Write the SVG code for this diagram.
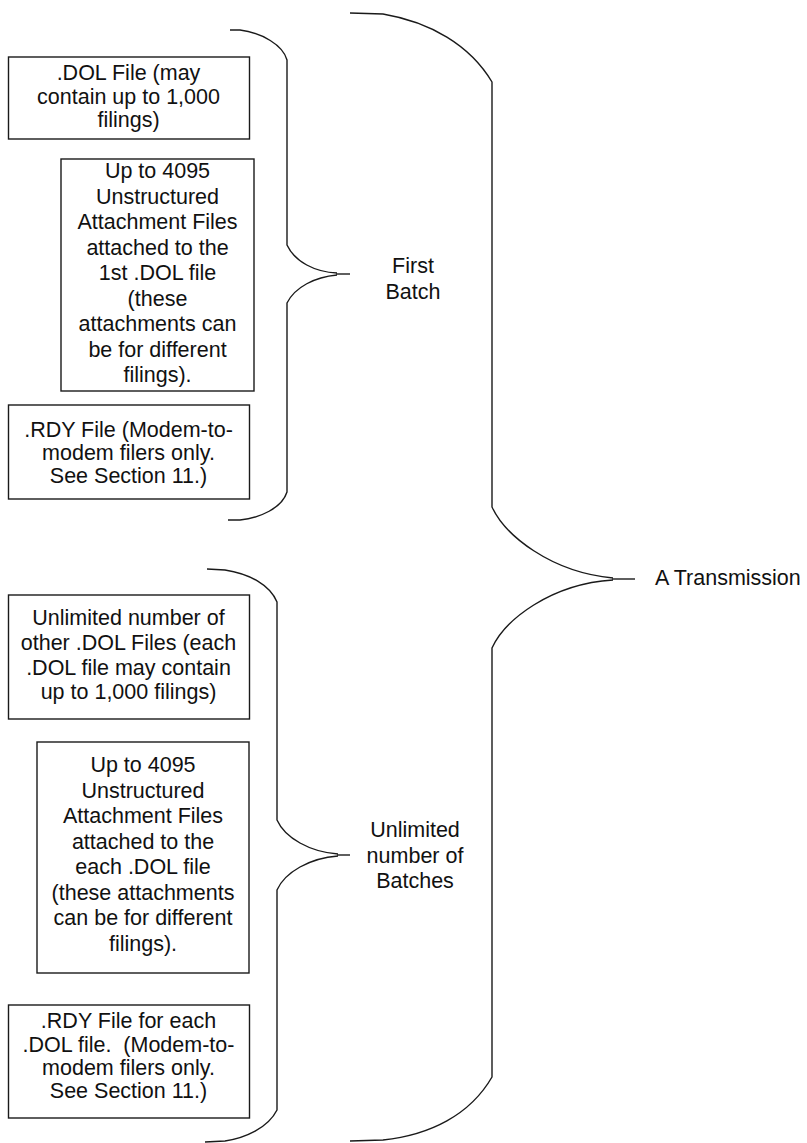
<svg xmlns="http://www.w3.org/2000/svg" width="807" height="1143" viewBox="0 0 807 1143">
<style>
.box{fill:#fff;stroke:#1a1a1a;stroke-width:1.4}
.br{fill:none;stroke:#1a1a1a;stroke-width:1.4}
text{font-family:"Liberation Sans",Arial,sans-serif;font-size:21.5px;fill:#111;text-anchor:middle;white-space:pre}
</style>
<rect width="807" height="1143" fill="#fff"/>
<g id="connectors">
<path class="br" d="M230,30 L240,30 C262,33 283,45 287,60 L287,245 C295,262 315,272 337,273 M337,275 C315,277 295,287 287,303 L287,492 C282,508 260,518 240,520 L228,520"/>
<path class="br" d="M336,274 L350,274" stroke-width="2"/>
<path class="br" d="M207,569 L225,570 C250,574 270,585 277,602 L277,820 C285,838 310,852 338,854 M338,856 C310,858 285,872 277,890 L277,1110 C268,1128 245,1138 225,1141 L205,1142"/>
<path class="br" d="M337,855 L350,855" stroke-width="2"/>
<path class="br" d="M350,13 L383,14 C430,22 470,45 492,82 L492,507 C505,535 550,572 613,578 M613,580 C550,584 505,620 492,648 L492,1077 C470,1115 430,1135 383,1140 L350,1141"/>
<path class="br" d="M612,579 L635,579" stroke-width="2"/>
</g>
<g id="dol1">
<rect class="box" x="8.5" y="57" width="241" height="82"/>
<text x="128.5" y="80">.DOL File (may</text>
<text x="128.5" y="103.5">contain up to 1,000</text>
<text x="128.5" y="127">filings)</text>
</g>
<g id="att1">
<rect class="box" x="61" y="159" width="193" height="232"/>
<text x="157.5" y="178">Up to 4095</text>
<text x="157.5" y="203.5">Unstructured</text>
<text x="157.5" y="229">Attachment Files</text>
<text x="157.5" y="254.5">attached to the</text>
<text x="157.5" y="280">1st .DOL file</text>
<text x="157.5" y="305.5">(these</text>
<text x="157.5" y="331">attachments can</text>
<text x="157.5" y="356.5">be for different</text>
<text x="157.5" y="382">filings).</text>
</g>
<g id="rdy1">
<rect class="box" x="8.5" y="405" width="241" height="94"/>
<text x="128.5" y="437">.RDY File (Modem-to-</text>
<text x="128.5" y="460">modem filers only.</text>
<text x="128.5" y="483">See Section 11.)</text>
</g>
<g id="dol2">
<rect class="box" x="8.5" y="595" width="241" height="124"/>
<text x="128.5" y="625">Unlimited number of</text>
<text x="128.5" y="650">other .DOL Files (each</text>
<text x="128.5" y="675">.DOL file may contain</text>
<text x="128.5" y="699">up to 1,000 filings)</text>
</g>
<g id="att2">
<rect class="box" x="37" y="742" width="212" height="231"/>
<text x="143" y="772">Up to 4095</text>
<text x="143" y="797.5">Unstructured</text>
<text x="143" y="823">Attachment Files</text>
<text x="143" y="848.5">attached to the</text>
<text x="143" y="874">each .DOL file</text>
<text x="143" y="899.5">(these attachments</text>
<text x="143" y="925">can be for different</text>
<text x="143" y="950.5">filings).</text>
</g>
<g id="rdy2">
<rect class="box" x="8.5" y="1005" width="241" height="113"/>
<text x="128.5" y="1028">.RDY File for each</text>
<text x="128.5" y="1051.5">.DOL file.  (Modem-to-</text>
<text x="128.5" y="1075">modem filers only.</text>
<text x="128.5" y="1098">See Section 11.)</text>
</g>
<g id="firstBatch">
<text x="413" y="273">First</text>
<text x="413" y="299">Batch</text>
</g>
<g id="unlimitedBatches">
<text x="415" y="837">Unlimited</text>
<text x="415" y="863">number of</text>
<text x="415" y="888">Batches</text>
</g>
<g id="transmission">
<text x="655" y="585" style="text-anchor:start">A Transmission</text>
</g>
</svg>
